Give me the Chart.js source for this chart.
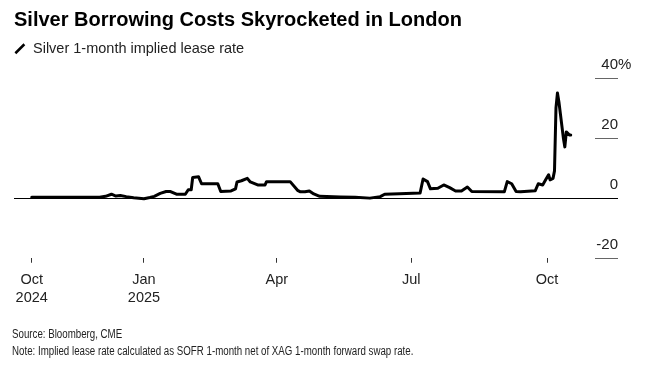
<!DOCTYPE html>
<html lang="en">
  <head>
    <meta charset="UTF-8" />
    <title>Silver Borrowing Costs</title>
    <script src="https://cdn.jsdelivr.net/npm/chart.js"></script>
    <style>
      body {
        margin: 0;
        background: #fff;
      }
      .wrap {
        position: relative;
        width: 653px;
        height: 366px;
      }
      canvas {
        display: block;
      }
      .notes {
        position: absolute;
        left: 12px;
        top: 326px;
        font: 12px "Liberation Sans", Arial, sans-serif;
        line-height: 16.5px;
        color: #222;
        white-space: nowrap;
        transform: scaleX(0.81);
        transform-origin: left top;
      }
    </style>
  </head>
  <body>
    <div class="wrap">
      <canvas id="myChart" width="653" height="366"></canvas>
      <div class="notes">
        <div>Source: Bloomberg, CME</div>
        <div>Note: Implied lease rate calculated as SOFR 1-month net of XAG 1-month forward swap rate.</div>
      </div>
    </div>
    <script>
      // x = days since 1 Oct 2024, y = lease rate in %
      const days = [
        16, 62, 66, 70, 73, 76, 80, 85, 92, 96, 99, 103, 107, 110, 114, 120,
        122, 124, 125, 129, 131, 142, 144, 151, 154, 155, 158, 162, 164, 169,
        174, 175, 191, 196, 198, 201, 204, 207, 211, 225, 235, 245, 252, 255,
        265, 279, 281, 284, 286, 291, 295, 299, 303, 307, 311, 314, 336, 338,
        341, 344, 347, 357, 359, 362, 364, 366, 367, 369, 370, 371, 372, 373,
        374, 375, 376, 377, 378, 379, 380, 381,
      ];
      const leaseRate = [
        0.2, 0.2, 0.5, 1.2, 0.6, 0.8, 0.4, 0.0, -0.3, 0.1, 0.5, 1.5, 2.1, 2.1,
        1.2, 1.2, 2.7, 2.7, 6.8, 7.0, 4.7, 4.7, 2.1, 2.3, 3.0, 5.3, 5.7, 6.5,
        5.3, 4.3, 4.3, 5.4, 5.4, 2.5, 2.0, 2.0, 2.3, 1.3, 0.5, 0.3, 0.2, -0.1,
        0.4, 1.2, 1.4, 1.6, 6.3, 5.4, 3.0, 3.2, 4.3, 3.4, 2.3, 2.3, 3.6, 2.1,
        2.0, 5.4, 4.7, 2.1, 2.0, 2.4, 4.7, 4.3, 6.0, 7.7, 6.0, 6.5, 9.0, 30.0,
        35.0, 32.0, 28.0, 24.0, 20.0, 17.0, 22.0, 21.5, 21.0, 21.0,
      ];
      const xTickDays = [16, 92, 182, 273, 365];
      const xTickLabels = [["Oct", "2024"], ["Jan", "2025"], "Apr", "Jul", "Oct"];
      const yTicks = [-20, 0, 20, 40];

      const fontFamily = "'Liberation Sans', Arial, Helvetica, sans-serif";

      // right-hand value labels sit above short rules, zero line runs full width
      const yAxisMarks = {
        id: "yAxisMarks",
        beforeDatasetsDraw(chart) {
          const ctx = chart.ctx;
          const area = chart.chartArea;
          const yScale = chart.scales.y;
          ctx.save();
          ctx.font = "15px " + fontFamily;
          ctx.fillStyle = "#222";
          ctx.textBaseline = "middle";
          yTicks.forEach(function (v, i) {
            const py = Math.round(yScale.getPixelForValue(v)) + 0.5;
            ctx.beginPath();
            ctx.lineWidth = 1;
            ctx.strokeStyle = v === 0 ? "#000" : "#666";
            ctx.moveTo(v === 0 ? area.left : area.right - 23, py);
            ctx.lineTo(area.right, py);
            ctx.stroke();
            ctx.textAlign = "right";
            ctx.fillText(String(v), area.right, py - 13.5);
            if (i === yTicks.length - 1) {
              ctx.textAlign = "left";
              ctx.fillText("%", area.right, py - 13.5);
            }
          });
          ctx.restore();
        },
      };

      const ctx = document.getElementById("myChart");
      const myChart = new Chart(ctx, {
        type: "line",
        data: {
          datasets: [
            {
              label: "Silver 1-month implied lease rate",
              data: days.map(function (d, i) {
                return { x: d, y: leaseRate[i] };
              }),
              borderColor: "#000",
              borderWidth: 3,
              borderJoinStyle: "round",
              borderCapStyle: "round",
              pointRadius: 0,
              tension: 0,
              fill: false,
            },
          ],
        },
        options: {
          responsive: false,
          animation: false,
          layout: {
            padding: { top: 0, left: 14, right: 35, bottom: 50 },
          },
          plugins: {
            title: {
              display: true,
              text: "Silver Borrowing Costs Skyrocketed in London",
              align: "start",
              color: "#000",
              font: { family: fontFamily, size: 20, weight: "bold", lineHeight: 1 },
              padding: { top: 10, bottom: 11.5 },
            },
            legend: {
              display: true,
              align: "start",
              labels: {
                usePointStyle: true,
                boxWidth: 11.75,
                boxHeight: 9,
                padding: 0,
                color: "#222",
                font: { family: fontFamily, size: 14.5 },
                generateLabels: function () {
                  return [
                    {
                      text: "Silver 1-month implied lease rate",
                      pointStyle: "line",
                      rotation: -45,
                      strokeStyle: "#000",
                      fillStyle: "#000",
                      lineWidth: 2.5,
                      fontColor: "#222",
                      datasetIndex: 0,
                    },
                  ];
                },
              },
            },
            tooltip: { enabled: false },
          },
          scales: {
            x: {
              type: "linear",
              min: 4,
              max: 413,
              afterBuildTicks: function (axis) {
                axis.ticks = xTickDays.map(function (v) {
                  return { value: v };
                });
              },
              grid: {
                drawOnChartArea: false,
                drawTicks: true,
                tickLength: 5,
                tickColor: "#333",
                lineWidth: 1,
              },
              border: { display: false },
              ticks: {
                autoSkip: false,
                maxRotation: 0,
                padding: 8.5,
                color: "#222",
                font: { family: fontFamily, size: 14.5, lineHeight: 1.25 },
                callback: function (value, index) {
                  return xTickLabels[index];
                },
              },
            },
            y: {
              display: false,
              min: -20,
              max: 44,
            },
          },
        },
        plugins: [yAxisMarks],
      });
    </script>
  </body>
</html>
